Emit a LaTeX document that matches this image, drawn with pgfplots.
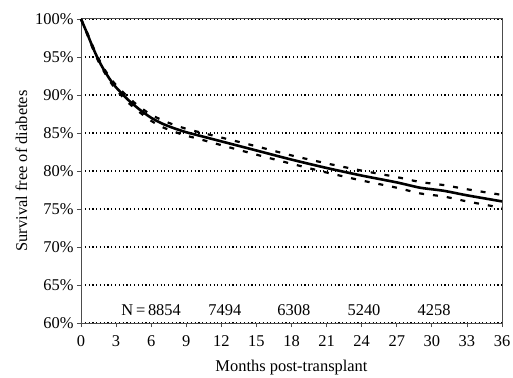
\documentclass[border=0pt]{standalone}
\usepackage{pgfplots}
\pgfplotsset{compat=1.18}
\usepackage{fontspec}
\setmainfont{Liberation Serif}
\begin{document}
\begin{tikzpicture}
\begin{axis}[
  scale only axis,
  width=421bp, height=304bp,
  xmin=0, xmax=36, ymin=60, ymax=100,
  xtick={0,3,...,36},
  ytick={60,65,...,100},
  yticklabel={\pgfmathprintnumber{\tick}\%},
  /pgf/number format/assume math mode=true,
  tick align=outside, tick pos=left,
  major tick length=4bp,
  axis line style={black!70, line width=1pt},
  every tick/.style={black!70, line width=0.8pt},
  ymajorgrids,
  grid style={black, line width=1.2pt, dash pattern=on 1.2pt off 2.6pt},
  tick label style={font=\fontsize{16.5}{18}\selectfont},
  label style={font=\fontsize{16.5}{18}\selectfont},
  xticklabel style={yshift=-5bp},
  xlabel={Months post-transplant},
  ylabel={Survival free of diabetes},
  xlabel style={yshift=-7bp},
  ylabel style={yshift=1bp},
  clip=false,
]
\addplot[black, line width=2.6pt, smooth, tension=0.4] coordinates {
(0,100) (0.5,98.2) (1,96.3) (1.5,94.6) (2,93.2) (2.5,92.0) (3,91.0) (4,89.4) (5,88.1) (6,87.0) (7,86.2) (8,85.6) (9,85.1) (10,84.7) (12,83.9) (15,82.7) (18,81.5) (21,80.4) (24,79.4) (27,78.5) (29,77.8) (31,77.4) (33,76.8) (36,76.0)};
\addplot[black, line width=2.2pt, dash pattern=on 5pt off 9pt, smooth, tension=0.4] coordinates {
(0,100) (0.5,98.3) (1,96.45) (1.5,94.8) (2,93.4) (2.5,92.25) (3,91.3) (4,89.75) (5,88.45) (6,87.4) (7,86.65) (8,86.05) (9,85.55) (10,85.15) (12,84.4) (15,83.25) (18,82.05) (21,81.0) (24,80.05) (27,79.2) (29,78.55) (31,78.15) (33,77.6) (36,76.85)};
\addplot[black, line width=2.2pt, dash pattern=on 5pt off 9pt, smooth, tension=0.4] coordinates {
(0,100) (0.5,98.1) (1,96.15) (1.5,94.4) (2,93.0) (2.5,91.75) (3,90.7) (4,89.05) (5,87.75) (6,86.6) (7,85.75) (8,85.15) (9,84.65) (10,84.25) (12,83.4) (15,82.15) (18,80.95) (21,79.8) (24,78.75) (27,77.8) (29,77.05) (31,76.65) (33,76.0) (36,75.15)};
\node[font=\fontsize{16.5}{18}\selectfont] at (axis cs:6,61.7) {N\,=\,8854};
\node[font=\fontsize{16.5}{18}\selectfont] at (axis cs:12.3,61.7) {7494};
\node[font=\fontsize{16.5}{18}\selectfont] at (axis cs:18.2,61.7) {6308};
\node[font=\fontsize{16.5}{18}\selectfont] at (axis cs:24.2,61.7) {5240};
\node[font=\fontsize{16.5}{18}\selectfont] at (axis cs:30.2,61.7) {4258};
\end{axis}
\pgfresetboundingbox
\path[use as bounding box] ([shift={(-81bp,-55bp)}]current axis.south west) rectangle ([shift={(11bp,19bp)}]current axis.north east);
\end{tikzpicture}
\end{document}
